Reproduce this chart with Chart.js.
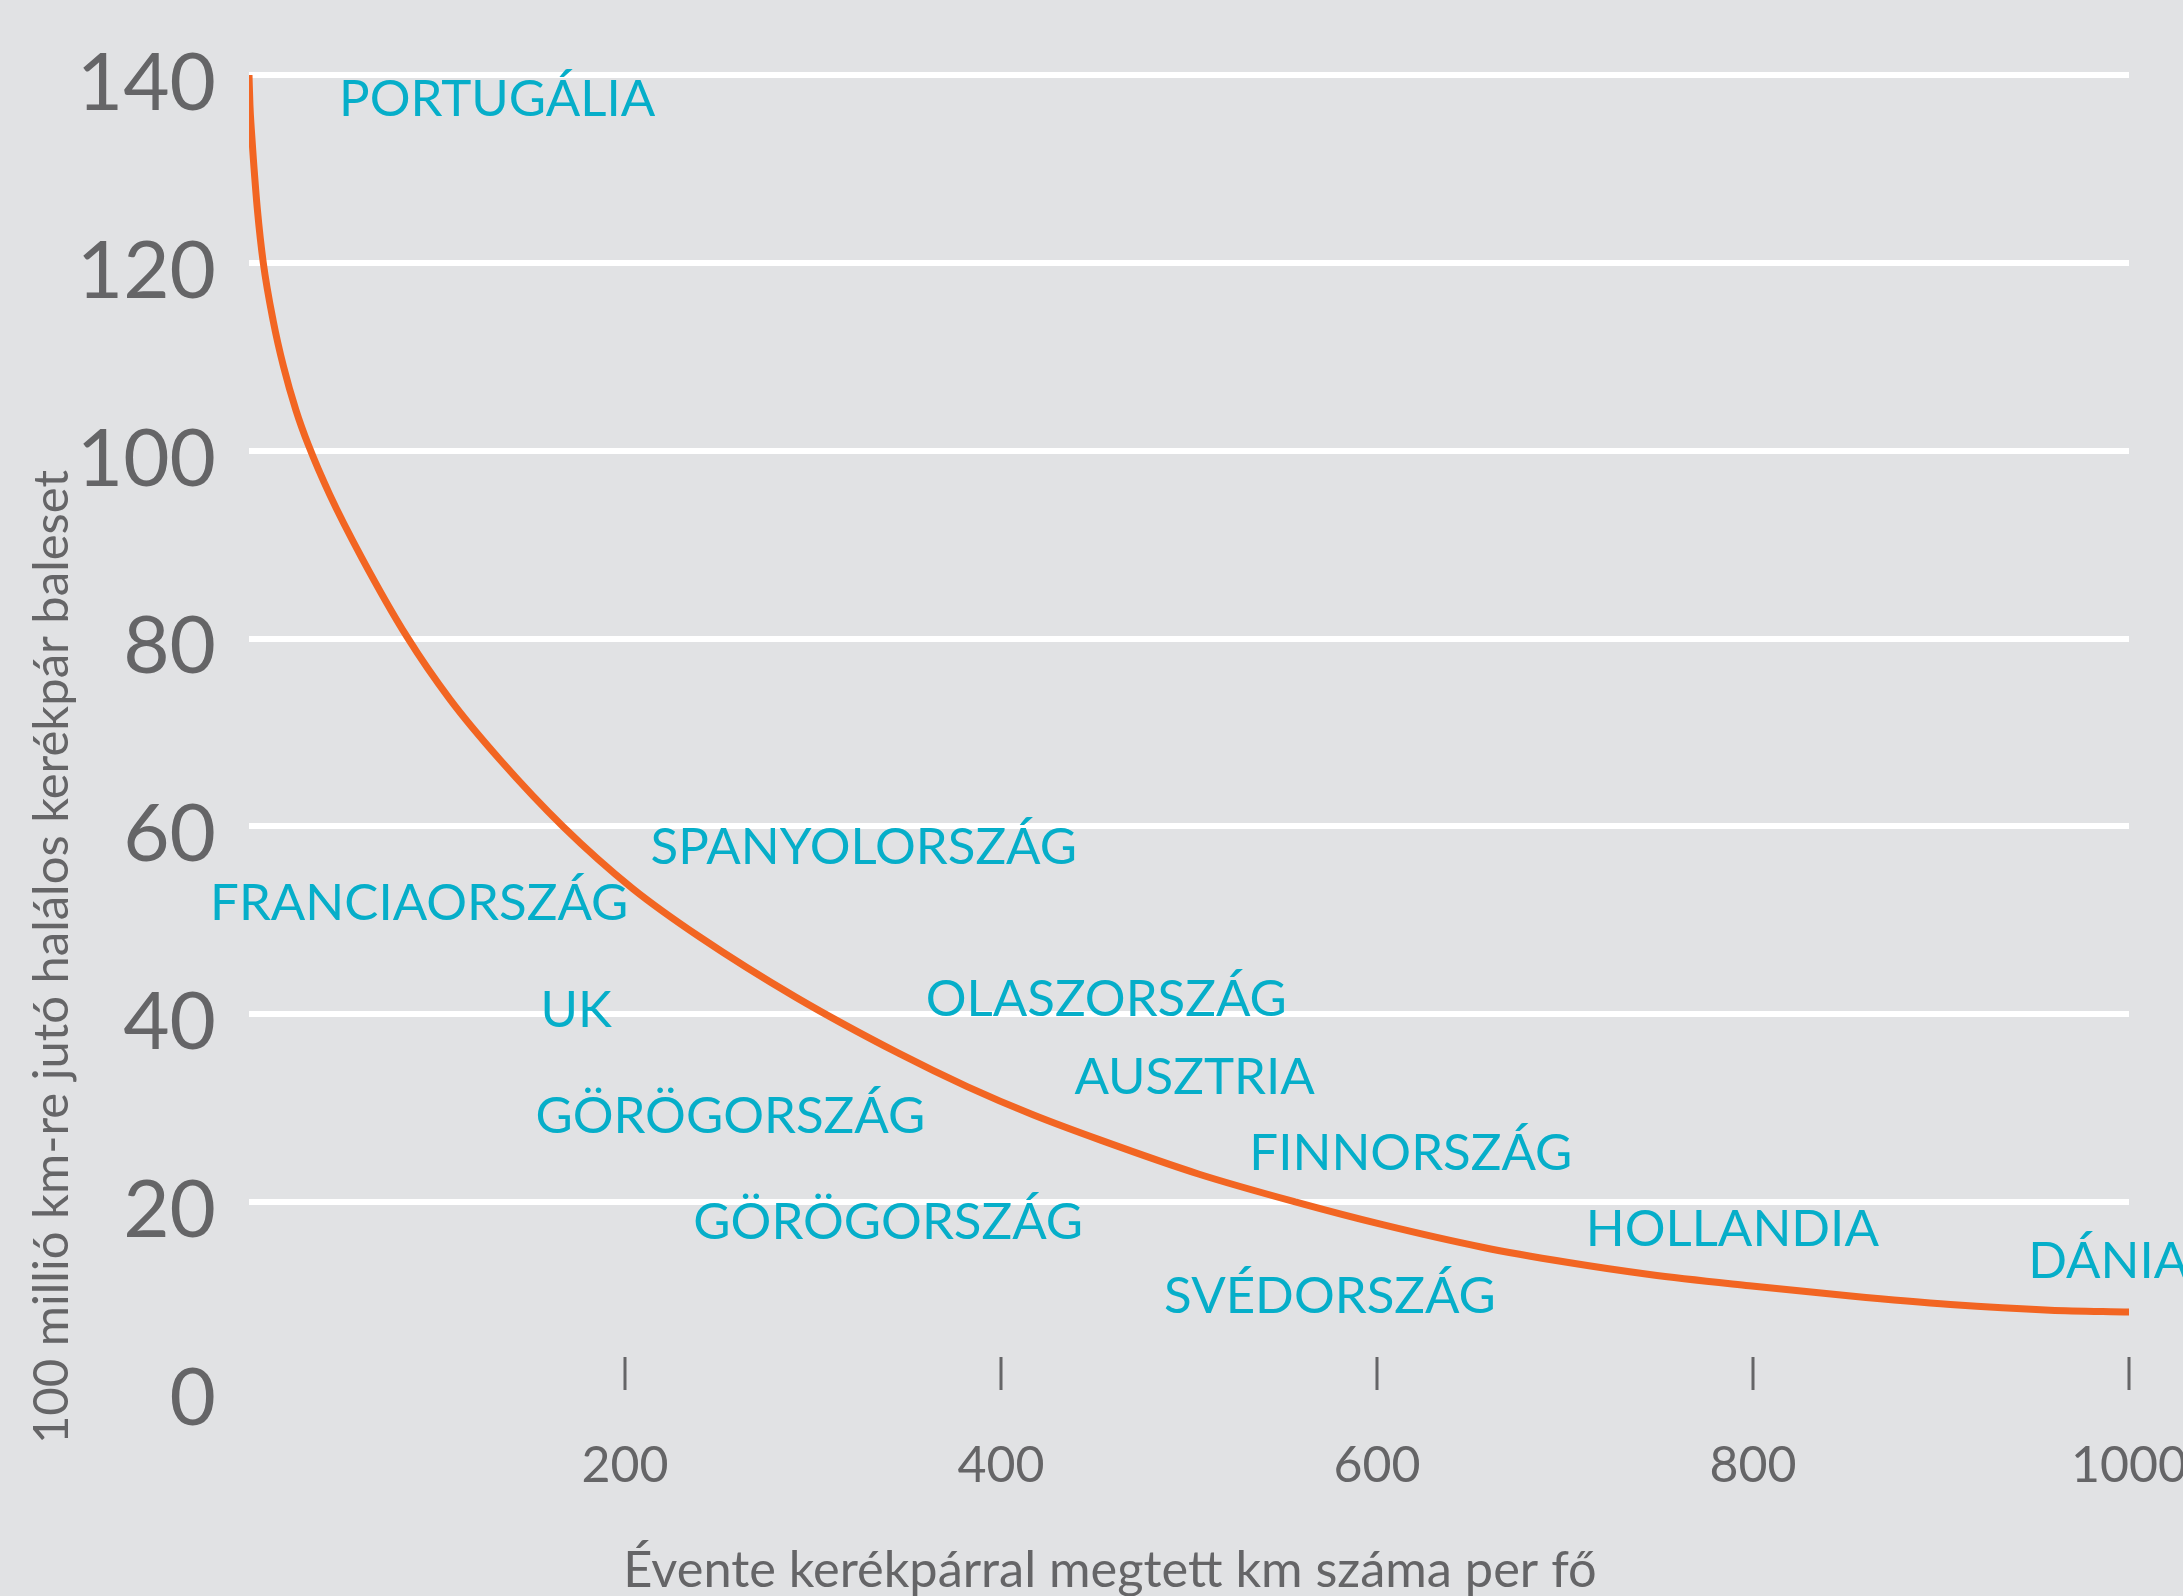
<!DOCTYPE html>
<html>
<head>
<meta charset="utf-8">
<script src="https://cdn.jsdelivr.net/npm/chart.js@4.4.1/dist/chart.umd.min.js"></script>
<style>
  html, body { margin: 0; padding: 0; background: #e1e2e4; }
  canvas { display: block; }
</style>
</head>
<body>
<canvas id="chart" width="2183" height="1596"></canvas>
<script>
// curve: deaths per 100 million km vs km cycled per person per year
const curveX = [0, 0.5, 1.2, 2.3, 4.4, 7.6, 12.9, 18.3, 25, 31.6, 43, 60, 84, 107, 133.5, 167, 204, 240, 291,
  346, 382, 417, 453, 505, 557, 603, 656, 701, 745, 798, 852, 905, 958, 1000];
const curveY = [140, 136.8, 134.3, 131.1, 125.8, 120, 113.8, 109, 104.3, 100.6, 95.3, 88.6, 80.2, 73.5, 67.1, 60, 53.4, 48.2, 41.8,
  35.8, 32.3, 29.3, 26.6, 23.0, 20.0, 17.6, 15.2, 13.6, 12.3, 11.1, 10.0, 9.1, 8.5, 8.3];

// country labels (label centre in data units)
const countries = ["PORTUGÁLIA", "SPANYOLORSZÁG", "FRANCIAORSZÁG", "UK", "OLASZORSZÁG", "AUSZTRIA",
  "GÖRÖGORSZÁG", "FINNORSZÁG", "GÖRÖGORSZÁG", "HOLLANDIA", "SVÉDORSZÁG", "DÁNIA"];
const countryX = [132, 327, 90.5, 174, 456, 503, 256, 618, 340, 789, 575, 989];
const countryY = [137.4, 57.8, 51.8, 40.4, 41.6, 33.3, 29.1, 25.2, 17.8, 17.1, 9.9, 13.7];

const xTicks = [200, 400, 600, 800, 1000];
const yTicks = [0, 20, 40, 60, 80, 100, 120, 140];

const xTitle = "Évente kerékpárral megtett km száma per fő";
const yTitle = "100 millió km-re jutó halálos kerékpár baleset";

const gray = "#656567";
const cyan = "#06aec9";
const orange = "#f26522";

const countryLabels = {
  id: "countryLabels",
  afterDatasetsDraw(chart) {
    const { ctx, scales: { x, y } } = chart;
    ctx.save();
    ctx.fillStyle = cyan;
    ctx.font = "51px Lato";
    ctx.textAlign = "center";
    ctx.textBaseline = "middle";
    countries.forEach((name, i) => {
      ctx.fillText(name, x.getPixelForValue(countryX[i]), y.getPixelForValue(countryY[i]));
    });
    ctx.restore();
  }
};

const axisExtras = {
  id: "axisExtras",
  afterDraw(chart) {
    const { ctx, scales: { x, y } } = chart;
    ctx.save();
    // short tick marks standing on the zero line
    const y0 = y.getPixelForValue(0);
    ctx.strokeStyle = gray;
    ctx.lineWidth = 3;
    xTicks.forEach(v => {
      const px = x.getPixelForValue(v);
      ctx.beginPath();
      ctx.moveTo(px, y0);
      ctx.lineTo(px, y0 - 33);
      ctx.stroke();
    });
    // axis titles
    ctx.fillStyle = gray;
    ctx.textAlign = "center";
    ctx.textBaseline = "alphabetic";
    ctx.font = "50.5px Lato";
    ctx.fillText(xTitle, 1110, 1587);
    ctx.font = "49px Lato";
    ctx.translate(68, 957);
    ctx.rotate(-Math.PI / 2);
    ctx.fillText(yTitle, 0, 0);
    ctx.restore();
  }
};

new Chart(document.getElementById("chart"), {
  type: "line",
  data: {
    datasets: [{
      data: curveX.map((v, i) => ({ x: v, y: curveY[i] })),
      borderColor: orange,
      borderWidth: 7,
      borderCapStyle: "round",
      pointRadius: 0,
      cubicInterpolationMode: "monotone",
      fill: false
    }]
  },
  options: {
    responsive: false,
    animation: false,
    layout: { padding: { top: 75, right: 54, left: 0, bottom: 0 } },
    plugins: { legend: { display: false }, tooltip: { enabled: false } },
    scales: {
      x: {
        type: "linear",
        min: 0,
        max: 1000,
        border: { display: false },
        grid: { display: false, drawTicks: false },
        afterBuildTicks: s => { s.ticks = xTicks.map(v => ({ value: v })); },
        afterFit: s => { s.height = 206; s.paddingLeft = 0; s.paddingRight = 0; },
        ticks: {
          color: gray,
          font: { family: "Lato", size: 50 },
          padding: 46,
          maxRotation: 0,
          callback: v => String(v)
        }
      },
      y: {
        min: 0,
        max: 140,
        border: { display: false },
        grid: {
          color: c => (c.tick && c.tick.value === 0 ? "rgba(0,0,0,0)" : "#ffffff"),
          lineWidth: 6,
          drawTicks: false
        },
        afterBuildTicks: s => { s.ticks = yTicks.map(v => ({ value: v })); },
        afterFit: s => { s.width = 249; s.paddingTop = 0; s.paddingBottom = 0; },
        ticks: {
          color: gray,
          font: { family: "Lato", size: 80 },
          padding: 33,
          labelOffset: 9,
          callback: v => String(v)
        }
      }
    }
  },
  plugins: [countryLabels, axisExtras]
});
</script>
</body>
</html>
